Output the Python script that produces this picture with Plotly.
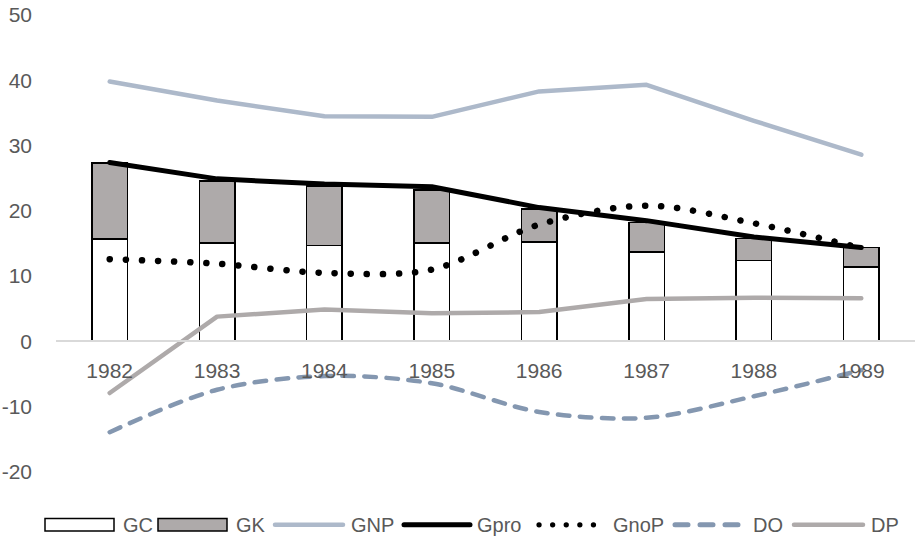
import plotly.graph_objects as go

# ---- data -------------------------------------------------------------
years = ["1982", "1983", "1984", "1985", "1986", "1987", "1988", "1989"]
gc = [15.7, 15.1, 14.7, 15.1, 15.2, 13.7, 12.4, 11.4]
gk = [11.6, 9.5, 9.1, 8.1, 5.1, 4.5, 3.4, 3.0]
gnp = [39.8, 36.9, 34.5, 34.4, 38.3, 39.3, 33.8, 28.6]
gpro = [27.4, 24.9, 24.1, 23.7, 20.5, 18.5, 16.0, 14.4]
gnop = [12.6, 11.9, 10.5, 11.0, 17.9, 20.8, 18.1, 14.3]
do_ = [-13.9, -7.4, -5.3, -6.4, -10.8, -11.7, -8.4, -4.4]
dp = [-7.9, 3.8, 4.9, 4.3, 4.5, 6.5, 6.7, 6.6]
y_ticks = [-20, -10, 0, 10, 20, 30, 40, 50]
y_tick_text = ["-20", "-10", "0", "10", "20", "30", "40", "50"]
legend_names = ["GC", "GK", "GNP", "Gpro", "GnoP", "DO", "DP"]

# ---- styling ----------------------------------------------------------
TEXT = "#595959"
FONT = "Liberation Sans, Arial, sans-serif"
C_GNP = "#ADB9CA"
C_DO = "#8497B0"
C_GREY = "#AEAAAA"

W, H = 915, 536
ML, MR, MT, MB = 56, 0, 15, 64
Y_MIN, Y_MAX = -20, 50

fig = go.Figure()

fig.add_trace(go.Bar(x=years, y=gc, name="GC", width=0.33,
                     marker=dict(color="white", line=dict(color="black", width=1.5))))
fig.add_trace(go.Bar(x=years, y=gk, name="GK", width=0.33,
                     marker=dict(color=C_GREY, line=dict(color="black", width=1.5))))
fig.add_trace(go.Scatter(x=years, y=gnp, name="GNP", mode="lines",
                         line=dict(color=C_GNP, width=4.5)))
fig.add_trace(go.Scatter(x=years, y=gpro, name="Gpro", mode="lines",
                         line=dict(color="black", width=5)))
fig.add_trace(go.Scatter(x=years, y=gnop, name="GnoP", mode="lines",
                         line=dict(color="black", width=6.5, dash="0.1px,16px",
                                   shape="spline", smoothing=0.9)))
fig.add_trace(go.Scatter(x=years, y=do_, name="DO", mode="lines",
                         line=dict(color=C_DO, width=4.5, dash="11.5px,10.5px",
                                   shape="spline", smoothing=0.9)))
fig.add_trace(go.Scatter(x=years, y=dp, name="DP", mode="lines",
                         line=dict(color=C_GREY, width=4.5)))

# ---- legend drawn along the bottom ------------------------------------
plot_w = W - ML - MR
plot_h = H - MT - MB


def px_x(px):
    return (px - ML) / plot_w


def px_y(py):
    return (H - MB - py) / plot_h


leg_y = 524.8
sym_start = [45, 158, 275, 404, 539, 675, 794]
sym_end = [114, 227, 343, 470, 606, 738, 863]
label_x = [121, 234, 349, 475, 611, 751, 869]
sym_style = [
    ("box", "white", None, None),
    ("box", C_GREY, None, None),
    ("line", C_GNP, 4.5, "solid"),
    ("line", "black", 5.0, "solid"),
    ("line", "black", 5.2, "0.1px,13.5px"),
    ("line", C_DO, 5.0, "13px,12px"),
    ("line", C_GREY, 4.5, "solid"),
]

for name, x0, x1, lx, (kind, col, lw, dash) in zip(
        legend_names, sym_start, sym_end, label_x, sym_style):
    if kind == "box":
        fig.add_shape(type="rect", xref="paper", yref="paper",
                      x0=px_x(x0), x1=px_x(x1),
                      y0=px_y(leg_y + 6.3), y1=px_y(leg_y - 6.3),
                      fillcolor=col, line=dict(color="black", width=1.5))
    else:
        fig.add_shape(type="line", xref="paper", yref="paper",
                      x0=px_x(x0), x1=px_x(x1), y0=px_y(leg_y), y1=px_y(leg_y),
                      line=dict(color=col, width=lw, dash=dash))
    fig.add_annotation(text=name, xref="paper", yref="paper",
                       x=px_x(lx), y=px_y(leg_y), xanchor="left", yanchor="middle",
                       showarrow=False, font=dict(family=FONT, size=20, color=TEXT))

fig.update_layout(
    width=W, height=H,
    margin=dict(l=ML, r=MR, t=MT, b=MB, pad=0),
    barmode="stack",
    showlegend=False,
    plot_bgcolor="white", paper_bgcolor="white",
    font=dict(family=FONT, color=TEXT),
    xaxis=dict(
        anchor="free",
        position=(0 - Y_MIN) / (Y_MAX - Y_MIN),
        showline=True, linecolor="#D9D9D9", linewidth=1.5,
        showgrid=False, ticks="",
        tickfont=dict(family=FONT, size=21, color=TEXT),
        ticklabelstandoff=11,
    ),
    yaxis=dict(
        range=[Y_MIN, Y_MAX],
        tickvals=y_ticks, ticktext=y_tick_text,
        showgrid=False, zeroline=False, showline=False, ticks="",
        tickfont=dict(family=FONT, size=21, color=TEXT),
        ticklabelstandoff=23,
    ),
)

round_caps = """
var gd = document.getElementById('{plot_id}');
function roundCaps() {
  gd.querySelectorAll('.scatterlayer path.js-line, .shapelayer path').forEach(function (p) {
    var d = p.getAttribute('d') || '';
    if (d.indexOf('Z') < 0) {
      p.style.strokeLinecap = 'round';
      p.style.strokeLinejoin = 'round';
    }
  });
}
roundCaps();
gd.on('plotly_afterplot', roundCaps);
"""

fig.write_html("out.html", post_script=round_caps)
